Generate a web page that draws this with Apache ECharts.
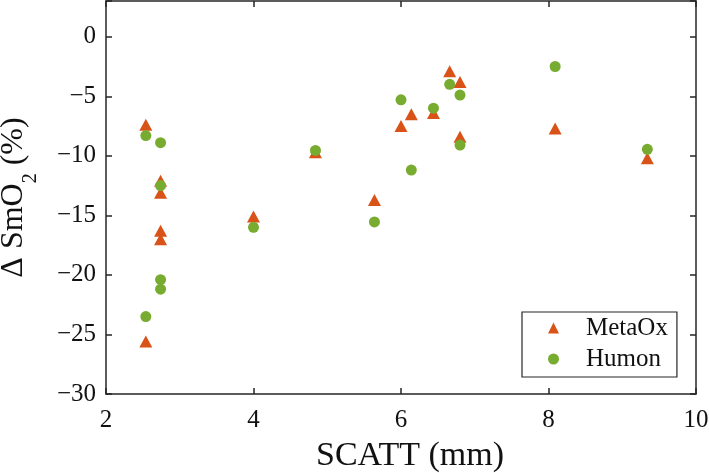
<!DOCTYPE html>
<html>
<head>
<meta charset="utf-8">
<script src="https://cdn.jsdelivr.net/npm/echarts@6/dist/echarts.min.js"></script>
<style>
html,body{margin:0;padding:0;background:#fff;}
#c{width:709px;height:473px;}
</style>
</head>
<body>
<div id="c"></div>
<script>
// Data
var metaOxX = [2.54, 2.74, 2.74, 2.74, 2.74, 2.54, 4.0, 4.84, 5.64, 6.0, 6.14, 6.44, 6.66, 6.8, 6.8, 8.09, 9.34];
var metaOxY = [-7.4, -12.1, -13.1, -16.3, -17.0, -25.6, -15.1, -9.7, -13.7, -7.5, -6.5, -6.4, -2.9, -3.8, -8.4, -7.7, -10.2];
var humonX  = [2.54, 2.74, 2.74, 2.74, 2.74, 2.54, 4.0, 4.84, 5.64, 6.0, 6.14, 6.44, 6.66, 6.8, 6.8, 8.09, 9.34];
var humonY  = [-8.3, -8.9, -12.5, -20.4, -21.2, -23.5, -16.0, -9.55, -15.55, -5.3, -11.2, -6.0, -4.0, -4.9, -9.1, -2.5, -9.45];
var xTicks = [2, 4, 6, 8, 10];
var yTicks = [-30, -25, -20, -15, -10, -5, 0];
var seriesNames = ['MetaOx', 'Humon'];

function pairs(xs, ys) { return xs.map(function (x, i) { return [x, ys[i]]; }); }

var FONT = 'Liberation Serif';
var AX = '#262626';
var minus = function (v) { return v < 0 ? '\u2212' + Math.abs(v) : String(v); };

var chart = echarts.init(document.getElementById('c'), null, {renderer: 'canvas'});

function xAx(pos, show) {
  return {
    type: 'value', position: pos, min: xTicks[0], max: xTicks[xTicks.length - 1], interval: 2,
    axisLine: {show: true, onZero: false, lineStyle: {color: AX, width: 1.5}},
    axisTick: {show: true, inside: true, length: 6, lineStyle: {color: AX, width: 1.5}},
    axisLabel: {show: show, fontFamily: FONT, fontSize: 25, color: '#111', margin: 14,
      formatter: function (v) { return xTicks.indexOf(v) >= 0 ? minus(v) : ''; }},
    splitLine: {show: false}
  };
}
function yAx(pos, show) {
  return {
    type: 'value', position: pos, min: yTicks[0], max: 3, interval: 5,
    axisLine: {show: true, onZero: false, lineStyle: {color: AX, width: 1.5}},
    axisTick: {show: true, inside: true, length: 6, lineStyle: {color: AX, width: 1.5}},
    axisLabel: {show: show, fontFamily: FONT, fontSize: 25, color: '#111', margin: 10,
      formatter: function (v) { return yTicks.indexOf(v) >= 0 ? minus(v) : ''; }},
    splitLine: {show: false}
  };
}

var xb = xAx('bottom', true);
xb.name = 'SCATT (mm)';
xb.nameLocation = 'middle';
xb.nameGap = 45;
xb.nameTextStyle = {fontFamily: FONT, fontSize: 34, color: '#111', padding: [0, 0, 0, 18]};

var yl = yAx('left', true);
yl.name = '{a|\u0394 SmO}{s|2}{a| (%)}';
yl.nameLocation = 'middle';
yl.nameGap = 76;
yl.nameRotate = 90;
yl.nameTextStyle = {
  fontFamily: FONT, color: '#111',
  rich: {
    a: {fontFamily: FONT, fontSize: 32, lineHeight: 32, color: '#111', verticalAlign: 'top'},
    s: {fontFamily: FONT, fontSize: 20, lineHeight: 20, color: '#111', verticalAlign: 'top', padding: [23, 0, 0, 0]}
  }
};

var option = {
  animation: false,
  backgroundColor: '#fff',
  grid: {left: 106, right: 13, top: 1, bottom: 79, containLabel: false, outerBoundsMode: 'none'},
  xAxis: [xb, xAx('top', false)],
  yAxis: [yl, yAx('right', false)],
  legend: {
    orient: 'vertical', left: 522, top: 312,
    data: seriesNames,
    itemWidth: 11, itemHeight: 11, itemGap: 6,
    padding: [3.5, 9, 5.5, 26],
    backgroundColor: '#fff', borderColor: AX, borderWidth: 1.2,
    textStyle: {fontFamily: FONT, fontSize: 25, lineHeight: 25, color: '#111', padding: [0, 0, 0, 22]}
  },
  series: [
    {
      name: seriesNames[0], type: 'scatter', symbol: 'triangle', symbolSize: [13, 12],
      itemStyle: {color: '#D95319', opacity: 1},
      data: pairs(metaOxX, metaOxY)
    },
    {
      name: seriesNames[1], type: 'scatter', symbol: 'circle', symbolSize: 11,
      itemStyle: {color: '#77AC30', opacity: 1},
      data: pairs(humonX, humonY)
    }
  ]
};
chart.setOption(option);
</script>
</body>
</html>
